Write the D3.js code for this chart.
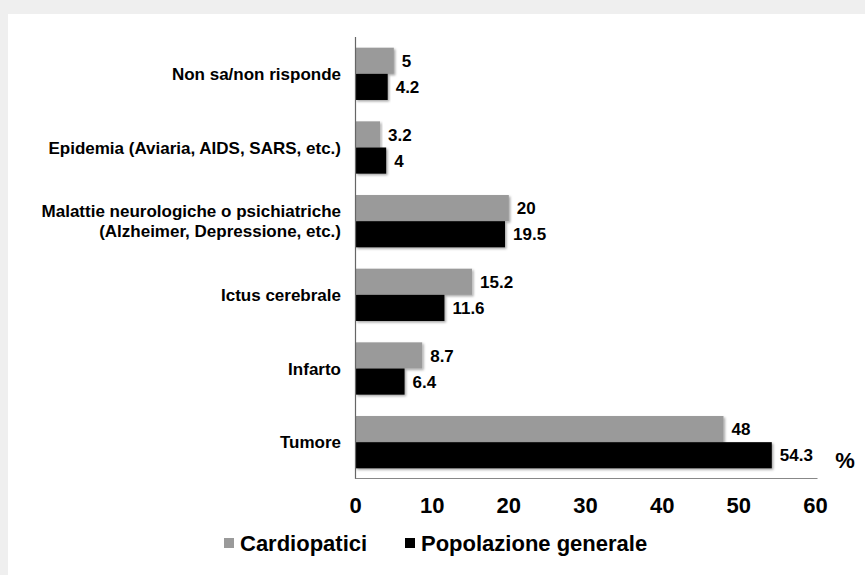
<!DOCTYPE html>
<html><head><meta charset="utf-8">
<script src="https://cdn.jsdelivr.net/npm/d3@7"></script>
<style>
html,body{margin:0;padding:0;background:#efefef;}
svg{display:block;}
text{font-family:"Liberation Sans",Arial,sans-serif;font-weight:bold;fill:#000;}
</style></head>
<body>
<svg id="c" width="865" height="575"></svg>
<script>
const categories = [
  ["Non sa/non risponde"],
  ["Epidemia (Aviaria, AIDS, SARS, etc.)"],
  ["Malattie neurologiche o psichiatriche","(Alzheimer, Depressione, etc.)"],
  ["Ictus cerebrale"],
  ["Infarto"],
  ["Tumore"]
];
const seriesNames = ["Cardiopatici", "Popolazione generale"];
const cardiopatici = [5, 3.2, 20, 15.2, 8.7, 48];
const popolazione = [4.2, 4, 19.5, 11.6, 6.4, 54.3];
const ticks = [0, 10, 20, 30, 40, 50, 60];
const colors = ["#9a9a9a", "#000000"];

const svg = d3.select("#c");
const defs = svg.append("defs");
const f = defs.append("filter").attr("id","sh").attr("x","-5%").attr("y","-20%").attr("width","115%").attr("height","160%");
f.append("feDropShadow").attr("dx",1.5).attr("dy",1.5).attr("stdDeviation",1).attr("flood-color","#000").attr("flood-opacity",0.35);

// background panel
svg.append("rect").attr("x",8).attr("y",14).attr("width",857).attr("height",561).attr("fill","#fff");

const x = d3.scaleLinear().domain([0,60]).range([355.5, 815.5]);
const idx = categories.map((d,i)=>i);
const y = d3.scaleBand().domain(idx).range([37, 479]).paddingInner(0.29).paddingOuter(0.145);
const ys = d3.scaleBand().domain([0,1]).range([0, y.bandwidth()]);

const data = idx.map(i => ({i, vals:[cardiopatici[i], popolazione[i]]}));

const g = svg.append("g");
const grp = g.selectAll("g.cat").data(data).join("g").attr("transform", d=>`translate(0,${y(d.i)})`);
grp.selectAll("rect").data(d=>d.vals.map((v,s)=>({v,s}))).join("rect")
  .attr("x", x(0)).attr("y", d=>ys(d.s)).attr("width", d=>x(d.v)-x(0)).attr("height", ys.bandwidth())
  .attr("fill", d=>colors[d.s]).attr("filter","url(#sh)");
grp.selectAll("text.val").data(d=>d.vals.map((v,s)=>({v,s}))).join("text").attr("class","val")
  .attr("x", d=>x(d.v)+8).attr("y", d=>ys(d.s)+ys.bandwidth()/2).attr("dy","0.36em")
  .style("font-size","17px").text(d=>d.v);

// category labels
const cl = g.selectAll("text.cat").data(data).join("text").attr("class","cat")
  .attr("text-anchor","end").style("font-size","17px")
  .attr("y", d=>y(d.i)+y.bandwidth()/2);
cl.each(function(d){
  const lines = categories[d.i];
  const t = d3.select(this);
  lines.forEach((ln,k)=>{
    t.append("tspan").attr("x",341).attr("dy", k===0 ? `${0.36-(lines.length-1)*0.6}em` : "1.2em").text(ln);
  });
});

// axes lines
g.append("line").attr("x1",x(0)).attr("x2",x(0)).attr("y1",37).attr("y2",479).attr("stroke","#666").attr("stroke-width",1.2);
g.append("line").attr("x1",x(0)).attr("x2",x(60)+2).attr("y1",478.5).attr("y2",478.5).attr("stroke","#888").attr("stroke-width",1.2);

// ticks
g.selectAll("text.tick").data(ticks).join("text").attr("class","tick")
  .attr("x", d=>x(d)).attr("y", 513).attr("text-anchor","middle").style("font-size","22px").text(d=>d);
g.append("text").attr("x",845).attr("y",468).attr("text-anchor","middle").style("font-size","22px").text("%");

// legend
const legX = [224, 405];
const lg = svg.append("g").selectAll("g").data(seriesNames).join("g").attr("transform",(d,i)=>`translate(${legX[i]},543)`);
lg.append("rect").attr("x",0).attr("y",-5).attr("width",10).attr("height",10).attr("fill",(d,i)=>colors[i]);
lg.append("text").attr("x",16).attr("y",0).attr("dy","0.36em").style("font-size","22px").text(d=>d);
</script>
</body></html>
